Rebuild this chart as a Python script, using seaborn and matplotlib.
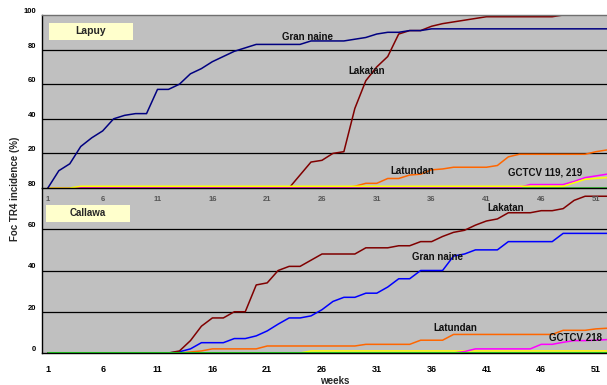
import matplotlib
matplotlib.use("Agg")
import matplotlib.pyplot as plt
import seaborn as sns
import pandas as pd
from matplotlib.patches import Rectangle

# ---------------- data ----------------
weeks = list(range(1, 53))
week_ticks = list(range(1, 52, 5))

lapuy_gran_naine = [0, 10, 14, 24, 29, 33, 40, 42, 43, 43, 57, 57, 60, 66, 69, 73, 76, 79,
                    81, 83, 83, 83, 83, 83, 85, 85, 85, 85, 86, 87, 89, 90, 90, 91, 91, 92] + [92] * 16
lapuy_lakatan = [0] * 23 + [7.5, 15, 16, 20, 21, 46, 62, 70, 76, 89, 91, 91, 93.5, 95, 96, 97, 98,
                            99, 99, 99, 99, 99, 99, 99, 100, 100, 100, 100, 100]
lapuy_latundan = [0] * 28 + [1, 2.7, 2.7, 5.5, 5.5, 7.5, 8, 10.5, 11, 12, 12, 12, 12, 13, 18,
                             19.5, 19.5, 19.5, 19.5, 19.5, 19.5, 19.5, 21, 22]
lapuy_gctcv_a = [0] * 43 + [0.3, 2, 2, 2, 2, 3.8, 6, 7, 8]
lapuy_gctcv_b = [0, 0, 0] + [1] * 45 + [3, 5, 5.6, 6]
lapuy_other = [0] * 52

callawa_lakatan = [0] * 12 + [1, 6, 13, 17, 17, 20, 20, 33, 34, 40, 42, 42, 45, 48, 48, 48, 48,
                              51, 51, 51, 52, 52, 54, 54, 56.5, 58.5, 59.5, 62, 64, 65, 68, 68,
                              68, 69, 69, 70, 74, 76, 76, 76]
callawa_gran_naine = [0] * 12 + [0.6, 2, 5, 5, 5, 7, 7, 8.3, 10.7, 14, 17, 17, 18, 21, 25, 27, 27,
                                 29, 29, 32, 36, 36, 40, 40, 40, 47, 48, 50, 50, 50, 54, 54, 54,
                                 54, 54, 58, 58, 58, 58, 58]
callawa_latundan = [0] * 13 + [0.5, 1, 2, 2, 2, 2, 2, 3.4, 3.4, 3.4, 3.4, 3.4, 3.4, 3.4, 3.4, 3.4,
                               4.2, 4.2, 4.2, 4.2, 4.2, 6.2, 6.2, 6.2, 9, 9, 9, 9, 9, 9, 9, 9, 9,
                               9, 11, 11, 11, 11.7, 12]
callawa_gctcv218 = [0] * 38 + [0.7, 2, 2, 2, 2, 2, 2, 4.2, 4.2, 5.2, 6, 6, 6.2, 6.5]
callawa_yellow = [0] * 24 + [1] * 28
callawa_other = [0] * 52

top_yticks = [0, 20, 40, 60, 80, 100]
top_yticklabels = ["", "20", "40", "60", "80", "100"]
bot_yticks = [0, 20, 40, 60, 80]
bot_yticklabels = ["0", "20", "40", "60", "80"]

# ---------------- figure ----------------
sns.set_style("white")
plt.rcParams["font.family"] = ["Liberation Sans", "DejaVu Sans"]
plt.rcParams["font.weight"] = "bold"

W, H = 607, 385
fig = plt.figure(figsize=(W / 100, H / 100), dpi=100)
fig.patch.set_facecolor("white")


def fx(x):
    return x / W


def fy(y):
    return 1 - y / H


ax_bot = fig.add_axes([fx(42), fy(353), (607 - 42) / W, (353 - 188) / H])
ax_top = fig.add_axes([fx(42), fy(188), (607 - 42) / W, (188 - 15) / H])

bg = "#C0C0C0"


def draw(ax, series, lws):
    for (name, vals, col), lw in zip(series, lws):
        df = pd.DataFrame({"week": weeks, "value": vals})
        sns.lineplot(data=df, x="week", y="value", ax=ax, color=col, lw=lw,
                     legend=False, clip_on=True)


top_series = [
    ("other", lapuy_other, "#33CC33"),
    ("Lakatan", lapuy_lakatan, "#800000"),
    ("Latundan", lapuy_latundan, "#FF6600"),
    ("GCTCV a", lapuy_gctcv_a, "#FF00FF"),
    ("GCTCV b", lapuy_gctcv_b, "#FFFF00"),
    ("Gran naine", lapuy_gran_naine, "#000080"),
]
draw(ax_top, top_series, [1.2, 1.1, 1.1, 1.1, 1.1, 1.1])

bot_series = [
    ("yellow", callawa_yellow, "#FFFF00"),
    ("GCTCV 218", callawa_gctcv218, "#FF00FF"),
    ("Latundan", callawa_latundan, "#FF6600"),
    ("Gran naine", callawa_gran_naine, "#0000FF"),
    ("Lakatan", callawa_lakatan, "#800000"),
    ("other", callawa_other, "#22DD22"),
]
draw(ax_bot, bot_series, [1.1, 1.1, 1.1, 1.1, 1.1, 2.2])

# axes styling
ax_top.set_xlim(1 - 6 / 11.22, 1 + 559 / 11.22)
ax_top.set_ylim(0, 100)
ax_bot.set_xlim(1 - 6 / 11.04, 1 + 559 / 11.04)
ax_bot.set_ylim(0, 80)

for ax, yt, ytl in ((ax_top, top_yticks, top_yticklabels), (ax_bot, bot_yticks, bot_yticklabels)):
    ax.set_facecolor(bg)
    ax.set_xlabel("")
    ax.set_ylabel("")
    ax.set_yticks(yt)
    ax.set_yticklabels(ytl, fontsize=5.5, fontweight="bold")
    for lab in ax.get_yticklabels():
        lab.set_va("bottom")
    ax.set_xticks(week_ticks)
    ax.set_xticks(weeks, minor=True)
    ax.tick_params(axis="y", direction="out", length=3, width=0.8, pad=1, colors="black")
    ax.tick_params(axis="x", which="both", direction="out", length=3, width=0.8, colors="black")
    for v in yt[1:]:
        if v < ax.get_ylim()[1]:
            ax.axhline(v, color="black", lw=0.9, zorder=0.5)
    ax.spines["right"].set_visible(False)
    ax.spines["left"].set_color("black")
    ax.spines["left"].set_linewidth(1.0)
    ax.spines["bottom"].set_color("black")
    ax.spines["bottom"].set_linewidth(1.0)

ax_top.spines["top"].set_color("#707070")
ax_top.spines["top"].set_linewidth(1.0)
ax_bot.spines["top"].set_visible(False)

ax_top.set_xticklabels([str(w) for w in week_ticks], fontsize=5.5, fontweight="bold", color="#555555")
ax_top.tick_params(axis="x", pad=2.5)
ax_bot.set_xticklabels([str(w) for w in week_ticks], fontsize=6.5, fontweight="bold")
ax_bot.tick_params(axis="x", pad=6)

# panel title boxes
for (x0, y0, x1, y1, txt, fs) in ((49, 23, 133, 40, "Lapuy", 7.5), (46, 205, 130, 222, "Callawa", 7)):
    fig.patches.append(Rectangle((fx(x0), fy(y1)), fx(x1) - fx(x0), fy(y0) - fy(y1),
                                 transform=fig.transFigure, facecolor="#FFFFCC",
                                 edgecolor="none", zorder=5))
    fig.text(fx((x0 + x1) / 2), fy((y0 + y1) / 2), txt, ha="center", va="center",
             fontsize=fs, fontweight="bold", zorder=6)

# series annotations
kw = dict(fontsize=7, fontweight="bold", ha="center", va="center", color="#111111")
ax_top.text(24.7, 87.3, "Gran naine", **kw)
ax_top.text(30.1, 67.6, "Lakatan", **kw)
ax_top.text(34.2, 9.8, "Latundan", **kw)
ax_top.text(46.4, 8.7, "GCTCV 119, 219", **kw)

ax_bot.text(42.8, 70.2, "Lakatan", **kw)
ax_bot.text(36.5, 46.5, "Gran naine", **kw)
ax_bot.text(38.2, 12.1, "Latundan", **kw)
ax_bot.text(46.7, 7.3, "GCTCV 218", fontsize=7, fontweight="bold", ha="left", va="center",
            color="#111111", clip_on=False)

fig.text(fx(15), fy(189), "Foc TR4 incidence (%)", rotation=90, ha="center", va="center",
         fontsize=7, fontweight="bold")
fig.text(fx(335), fy(381), "weeks", ha="center", va="center", fontsize=7, fontweight="bold")

fig.savefig("out.png", dpi=100, facecolor="white")
